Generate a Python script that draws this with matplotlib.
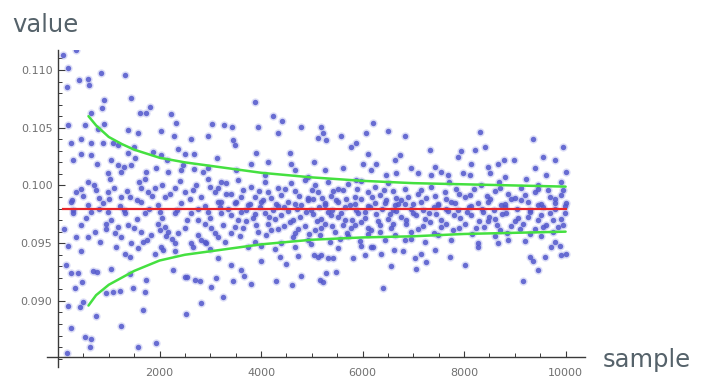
import matplotlib
matplotlib.use("Agg")
import matplotlib.pyplot as plt
from matplotlib.ticker import MultipleLocator, FixedLocator

# ---------------- data ----------------
# sparse points above the dense band, left part
upper_left = [(100,0.1113),(200,0.1102),(350,0.1117),(180,0.1085),(410,0.1091),(590,0.1092),(620,0.1087),
    (850,0.1097),(1320,0.1096),(910,0.1074),(870,0.1067),(1440,0.1076),(1810,0.1068),(650,0.1063),
    (1620,0.1063),(1730,0.1063),(2230,0.1062),(2320,0.1054),(200,0.1052),(530,0.1052),(910,0.1053),
    (790,0.1049),(1380,0.1048),(1580,0.1045),(2030,0.1047),(2290,0.1043),(2620,0.1040),(2960,0.1043),
    (3040,0.1053),(3270,0.1052),(260,0.1037),(450,0.1040),(650,0.1037),(890,0.1037),(1080,0.1037),
    (1180,0.1035),(1500,0.1033),(2360,0.1032),(300,0.1022),(450,0.1027),(650,0.1026),(770,0.1019),
    (1040,0.1022),(1380,0.1028),(1520,0.1024),(1870,0.1029),(2030,0.1026),(2150,0.1022),(2500,0.1027),
    (2680,0.1027),(3130,0.1024),(590,0.1003),(990,0.1011),(1020,0.1006),(1180,0.1018),(1240,0.1012),
    (1440,0.1018),(1300,0.1016),(1710,0.1006),(1730,0.1012),(1930,0.1015),(2170,0.1012),(2420,0.1013),
    (2460,0.1018),(2680,0.1014),(2960,0.1015),(2860,0.1012),(3210,0.1003),(3310,0.1002),(350,0.0994),
    (280,0.0987),(990,0.0994),(1240,0.0990),(1420,0.0990),(1640,0.0998),(1770,0.0994),(1910,0.0998),
    (2110,0.0990),(2300,0.0998),(2500,0.0994),(2720,0.1000),(2820,0.0990),(3090,0.0994),(3210,0.0986),
    (450,0.0997),(800,0.0989),(1100,0.0998),(1550,0.0987),(1850,0.0991),(2200,0.0993),(2600,0.0988),
    (3000,0.0999),(3300,0.0993),(700,0.1000)]

# sparse points above the dense band, middle part
upper_mid = [(3880,0.1072),(4240,0.1060),(4410,0.1056),(3940,0.1051),(4330,0.1045),(4790,0.1051),
    (5180,0.1051),(5220,0.1045),(5280,0.1039),(5120,0.1041),(5580,0.1043),(5870,0.1037),(5770,0.1033),
    (6070,0.1045),(6200,0.1054),(6500,0.1047),(3430,0.1051),(3450,0.1039),(3490,0.1035),(3900,0.1028),
    (4570,0.1028),(4140,0.1020),(3800,0.1019),(4590,0.1019),(5040,0.1020),(5610,0.1015),(6110,0.1027),
    (6260,0.1019),(6010,0.1019),(6640,0.1022),(6660,0.1011),(4670,0.1013),(5260,0.1013),(6170,0.1013),
    (6460,0.1009),(3510,0.1013),(4080,0.1009),(4930,0.1007),(5870,0.1005)]

# sparse points above the dense band, right part
upper_right = [(8310,0.1046),(6840,0.1043),(9360,0.1040),(9950,0.1033),(7330,0.1031),(8410,0.1033),
    (6740,0.1026),(7940,0.1030),(7880,0.1025),(8210,0.1031),(8790,0.1022),(8980,0.1022),(8670,0.1019),
    (9550,0.1025),(9790,0.1022),(6950,0.1015),(7430,0.1016),(8140,0.1019),(8470,0.1016),(9400,0.1015),
    (10000,0.1012),(7090,0.1011),(7350,0.1009),(7540,0.1012),(7680,0.1009),(7980,0.1011),(8120,0.1009),
    (8510,0.1011),(8810,0.1007),(9220,0.1006),(9610,0.1009),(9910,0.1003),(7700,0.1003),(8690,0.1003),
    (9460,0.1000)]

# dense band above the mean line
band_high = [(3546,0.1005),(3809,0.0999),(4072,0.1003),(4335,0.0998),(4597,0.1002),(4860,0.1005),
    (5057,0.1000),(5320,0.1003),(5517,0.0997),(5714,0.1001),(5977,0.1004),(6240,0.0999),(6503,0.1002),
    (3415,0.0993),(3645,0.0996),(3875,0.0990),(4137,0.0994),(4400,0.0992),(4663,0.0995),(4926,0.0989),
    (5123,0.0994),(5386,0.0991),(5616,0.0996),(5846,0.0990),(6108,0.0994),(6338,0.0992),(6601,0.0995),
    (3513,0.0986),(3776,0.0984),(4039,0.0987),(4302,0.0984),(4532,0.0986),(4794,0.0983),(5024,0.0988),
    (5254,0.0985),(5484,0.0987),(5747,0.0983),(5977,0.0988),(6240,0.0985),(6470,0.0987),(6700,0.0984),
    (6830,0.0997),(7092,0.0993),(7355,0.0999),(7618,0.0994),(7848,0.0997),(8110,0.0992),(8340,0.1000),
    (8603,0.0995),(8866,0.0993),(9129,0.0998),(9392,0.0994),(9655,0.0996),(9917,0.0992),
    (6764,0.0987),(6994,0.0984),(7256,0.0989),(7486,0.0984),(7749,0.0986),(8012,0.0990),(8275,0.0985),
    (8505,0.0988),(8735,0.0983),(8998,0.0989),(9260,0.0986),(9523,0.0984),(9786,0.0988),(10000,0.0985)]

# dense band below the mean line
band_low = [(3480,0.0985),(3743,0.0983),(4006,0.0986),(4335,0.0982),(4663,0.0984),(4926,0.0987),
    (5254,0.0983),(5517,0.0986),(5846,0.0984),(6108,0.0982),(6437,0.0985),(6634,0.0983),
    (3415,0.0974),(3612,0.0977),(3842,0.0972),(4072,0.0976),(4269,0.0971),(4532,0.0978),(4762,0.0973),
    (5024,0.0975),(5189,0.0971),(5320,0.0977),(5517,0.0973),(5649,0.0970),(5911,0.0976),(6043,0.0972),
    (6273,0.0975),(6503,0.0971),(6667,0.0978),
    (3480,0.0964),(3710,0.0969),(3940,0.0960),(4137,0.0967),(4335,0.0962),(4564,0.0968),(4663,0.0959),
    (4860,0.0965),(5057,0.0961),(5254,0.0967),(5451,0.0960),(5616,0.0966),(5780,0.0963),(5977,0.0968),
    (6174,0.0961),(6338,0.0966),(6568,0.0963),
    (3579,0.0956),(3875,0.0951),(4105,0.0957),(4400,0.0950),(4630,0.0955),(4926,0.0953),(5156,0.0957),
    (5353,0.0951),(5550,0.0954),(5714,0.0956),(5944,0.0952),(6108,0.0958),(6437,0.0953),(6634,0.0957),
    (3743,0.0947),(4006,0.0948),(4269,0.0945),(4663,0.0947),(4992,0.0949),(5517,0.0946),(5977,0.0948),
    (6174,0.0947),
    (6830,0.0984),(7158,0.0986),(7486,0.0983),(7815,0.0985),(8143,0.0982),(8472,0.0986),(8800,0.0984),
    (9129,0.0987),(9457,0.0983),(9786,0.0985),(9990,0.0982),
    (6764,0.0973),(6994,0.0976),(7224,0.0971),(7454,0.0975),(7684,0.0978),(7914,0.0972),(8143,0.0974),
    (8373,0.0977),(8603,0.0971),(8833,0.0976),(9063,0.0972),(9293,0.0977),(9523,0.0974),(9753,0.0970),
    (9983,0.0976),
    (6862,0.0967),(7092,0.0962),(7322,0.0968),(7552,0.0964),(7782,0.0961),(8012,0.0967),(8242,0.0963),
    (8472,0.0969),(8702,0.0961),(8932,0.0965),(9162,0.0967),(9392,0.0962),(9622,0.0966),(9852,0.0964),
    (6961,0.0954),(7224,0.0951),(7486,0.0957),(7749,0.0953),(8275,0.0950),(8603,0.0956),(8866,0.0953),
    (9195,0.0952),(9523,0.0956),(9786,0.0951)]

# further points filling the dense band
band_fill = [(3600,0.0990),(3950,0.0995),(4200,0.0989),(4480,0.0997),(4750,0.0991),(5000,0.0996),
    (5200,0.0989),(5420,0.0995),(5680,0.0988),(5900,0.0997),(6180,0.0990),(6420,0.0996),(6650,0.0989),
    (3350,0.0980),(3700,0.0979),(3980,0.0981),(4230,0.0979),(4450,0.0981),(4700,0.0980),(4980,0.0979),
    (5150,0.0981),(5400,0.0979),(5650,0.0981),(5880,0.0979),(6150,0.0981),(6380,0.0980),(6600,0.0979),
    (3550,0.0970),(3880,0.0975),(4150,0.0973),(4400,0.0974),(4620,0.0970),(4880,0.0977),(5100,0.0969),
    (5380,0.0974),(5580,0.0976),(5800,0.0970),(6050,0.0977),(6300,0.0969),(6550,0.0975),
    (3400,0.0959),(3650,0.0963),(3900,0.0966),(4200,0.0961),(4450,0.0965),(4720,0.0962),(4950,0.0958),
    (5180,0.0963),(5400,0.0965),(5700,0.0959),(5850,0.0966),(6100,0.0963),(6350,0.0960),(6600,0.0967),
    (6900,0.0990),(7150,0.0996),(7420,0.0991),(7650,0.0988),(7900,0.0993),(8200,0.0997),(8450,0.0991),
    (8700,0.0998),(8920,0.0988),(9200,0.0992),(9450,0.0997),(9700,0.0990),(9950,0.0996),
    (6950,0.0980),(7200,0.0979),(7400,0.0981),(7650,0.0980),(7880,0.0979),(8100,0.0981),(8350,0.0980),
    (8580,0.0979),(8800,0.0981),(9050,0.0980),(9300,0.0979),(9550,0.0981),(9800,0.0980),
    (6850,0.0970),(7050,0.0974),(7300,0.0976),(7550,0.0970),(7800,0.0974),(8050,0.0977),(8300,0.0969),
    (8500,0.0973),(8750,0.0975),(9000,0.0969),(9250,0.0973),(9450,0.0970),(9700,0.0976),(9900,0.0971),
    (6950,0.0960),(7200,0.0965),(7400,0.0959),(7650,0.0967),(7900,0.0963),(8150,0.0958),(8400,0.0964),
    (8650,0.0966),(8850,0.0959),(9100,0.0962),(9300,0.0958),(9550,0.0964),(9750,0.0960),(9950,0.0966),
    (300,0.0979),(550,0.0972),(800,0.0980),(1050,0.0970),(1300,0.0979),(1550,0.0971),(1800,0.0980),
    (2050,0.0972),(2350,0.0979),(2550,0.0970),(2750,0.0980),(3000,0.0972),(3200,0.0981),
    (600,0.0955),(950,0.0962),(1250,0.0955),(1500,0.0963),(1750,0.0953),(2000,0.0961),(2250,0.0954),
    (2500,0.0963),(2750,0.0957),(3000,0.0945),(3150,0.0955),
    (500,0.0991),(750,0.0996),(1000,0.0988),(1350,0.0995),(1600,0.1003),(2050,0.1000),(2400,0.1004),
    (2650,0.0996),(2950,0.1006),(3150,0.0998)]

# band below the mean line, left part
band_left = [(296,0.0976),(657,0.0977),(986,0.0977),(1314,0.0976),(1708,0.0976),(2004,0.0977),
    (2300,0.0976),(2628,0.0976),(2957,0.0977),(3219,0.0976),
    (460,0.0966),(953,0.0967),(1183,0.0964),(1380,0.0966),(1971,0.0967),(2102,0.0964),(2168,0.0960),
    (2759,0.0970),(2891,0.0967),(3022,0.0963),(3250,0.0966),
    (723,0.0960),(1117,0.0959),(1643,0.0960),(1840,0.0957),(2130,0.0956),(2365,0.0959),(2628,0.0950),
    (2825,0.0953),(2924,0.0950),(3088,0.0959),
    (821,0.0951),(1150,0.0947),(1445,0.0950),(1675,0.0951),(2037,0.0947),(2300,0.0950),(2661,0.0947),
    (2891,0.0951),(3285,0.0951),
    (460,0.0943),(1314,0.0941),(1413,0.0938),(1577,0.0946),(1905,0.0941),(2070,0.0944),(2300,0.0943),
    (3154,0.0937),(164,0.0931),(1051,0.0928),(2267,0.0927),(2497,0.0921),
    (263,0.0986),(591,0.0983),(887,0.0985),(1215,0.0982),(1643,0.0986),(1971,0.0983),(2431,0.0985),
    (2891,0.0982),(3154,0.0986),(120,0.0962),(350,0.0955),(200,0.0948)]

# sparse points below the band
lower_sparse = [(260,0.0924),(390,0.0924),(690,0.0926),(770,0.0925),(470,0.0916),(330,0.0911),
    (200,0.0896),(430,0.0895),(490,0.0899),(750,0.0887),(260,0.0877),(1240,0.0878),(530,0.0869),
    (650,0.0867),(630,0.0860),(1580,0.0860),(1670,0.0892),(950,0.0907),(1080,0.0908),(1220,0.0909),
    (1480,0.0911),(1710,0.0908),(1740,0.0918),(1930,0.0864),(2520,0.0889),(2820,0.0898),(3250,0.0903),
    (3010,0.0912),(2700,0.0918),(2800,0.0917),(2540,0.0921),(3110,0.0920),(1420,0.0923),(180,0.0855),
    (3415,0.0931),(3610,0.0927),(3665,0.0922),(3450,0.0917),(3810,0.0915),(4006,0.0935),(4300,0.0917),
    (4370,0.0938),(4500,0.0932),(4600,0.0914),(4730,0.0939),(4795,0.0922),(5045,0.0940),(5123,0.0938),
    (5189,0.0940),(5320,0.0937),(5420,0.0937),(5156,0.0918),(5222,0.0916),(5287,0.0924),(5484,0.0925),
    (5813,0.0937),(6043,0.0940),(6207,0.0947),(6371,0.0941),(6404,0.0911),(6568,0.0930),(6620,0.0944),
    (6797,0.0943),(7027,0.0937),(7060,0.0928),(7158,0.0941),(7256,0.0934),(7421,0.0944),(7716,0.0938),
    (8012,0.0931),(8275,0.0947),(8669,0.0950),(9162,0.0917),(9293,0.0938),(9359,0.0935),(9457,0.0927),
    (9589,0.0938),(9720,0.0947),(9885,0.0948),(9917,0.0940),(10000,0.0941),(6830,0.0953)]

# mean line and confidence curves
mean_value = 0.098
mean_range = [100, 10000]
curve_x  = [600, 750, 1000, 1250, 1500, 2000, 2500, 3000, 4000, 5000, 6000, 7000, 8000, 9000, 10000]
upper_curve = [0.1060, 0.1052, 0.1042, 0.1036, 0.1031, 0.1024, 0.1020, 0.1017, 0.1011, 0.1007,
               0.1004, 0.1002, 0.1001, 0.1000, 0.0999]
lower_curve = [0.0896, 0.0905, 0.0914, 0.0920, 0.0926, 0.0935, 0.0940, 0.0943, 0.0949, 0.0953,
               0.0955, 0.0956, 0.0958, 0.0959, 0.0960]

x_ticks = [2000, 4000, 6000, 8000, 10000]
y_ticks = [0.090, 0.095, 0.100, 0.105, 0.110]
y_tick_labels = ["0.090", "0.095", "0.100", "0.105", "0.110"]

# ---------------- plot ----------------
W, H = 702, 380
fig = plt.figure(figsize=(W/100, H/100), dpi=100)
fig.patch.set_facecolor("white")
ax = fig.add_axes([47/W, 13/H, 538/W, 317/H])
ax.set_xlim(-217, 10382)
ax.set_ylim(0.08428, 0.11173)

groups = [upper_left, upper_mid, upper_right, band_high, band_low, band_fill, band_left, lower_sparse]
xs = [p[0] for g in groups for p in g]
ys = [p[1] for g in groups for p in g]

ax.scatter(xs, ys, s=36, color="#9a9ee8", alpha=0.35, linewidths=0, zorder=2)
ax.scatter(xs, ys, s=15, color="#5358cc", alpha=0.85, linewidths=0, zorder=3)

ax.plot(mean_range, [mean_value, mean_value], color="#e8262a", lw=1.6, zorder=4)
ax.plot(curve_x, upper_curve, color="#45e040", lw=1.8, zorder=4, solid_capstyle="round")
ax.plot(curve_x, lower_curve, color="#45e040", lw=1.8, zorder=4, solid_capstyle="round")

for s in ["top", "right"]:
    ax.spines[s].set_visible(False)
ax.spines["left"].set_position(("data", 0))
ax.spines["bottom"].set_position(("data", 0.08515))
for s in ["left", "bottom"]:
    ax.spines[s].set_color("#3a3a3a")
    ax.spines[s].set_linewidth(1.0)

ax.yaxis.set_major_locator(FixedLocator(y_ticks))
ax.set_yticklabels(y_tick_labels)
ax.yaxis.set_minor_locator(MultipleLocator(0.001))
ax.xaxis.set_major_locator(FixedLocator(x_ticks))
ax.set_xticklabels([str(v) for v in x_ticks])
ax.xaxis.set_minor_locator(MultipleLocator(500))

ax.tick_params(axis="y", which="major", direction="in", length=5, width=0.8, color="#3a3a3a",
               labelsize=8, labelcolor="#707070", pad=4)
ax.tick_params(axis="y", which="minor", direction="in", length=3, width=0.7, color="#3a3a3a")
ax.tick_params(axis="x", which="major", direction="in", length=4, width=0.8, color="#3a3a3a",
               labelsize=8, labelcolor="#707070", pad=8)
ax.tick_params(axis="x", which="minor", direction="in", length=3, width=0.7, color="#3a3a3a")

fig.text(12/W, 1 - 32/H, "value", fontsize=17.5, color="#55626a", ha="left", va="baseline")
fig.text(603/W, 1 - 367/H, "sample", fontsize=17.5, color="#55626a", ha="left", va="baseline")

fig.savefig("out.png", dpi=100, facecolor="white")
